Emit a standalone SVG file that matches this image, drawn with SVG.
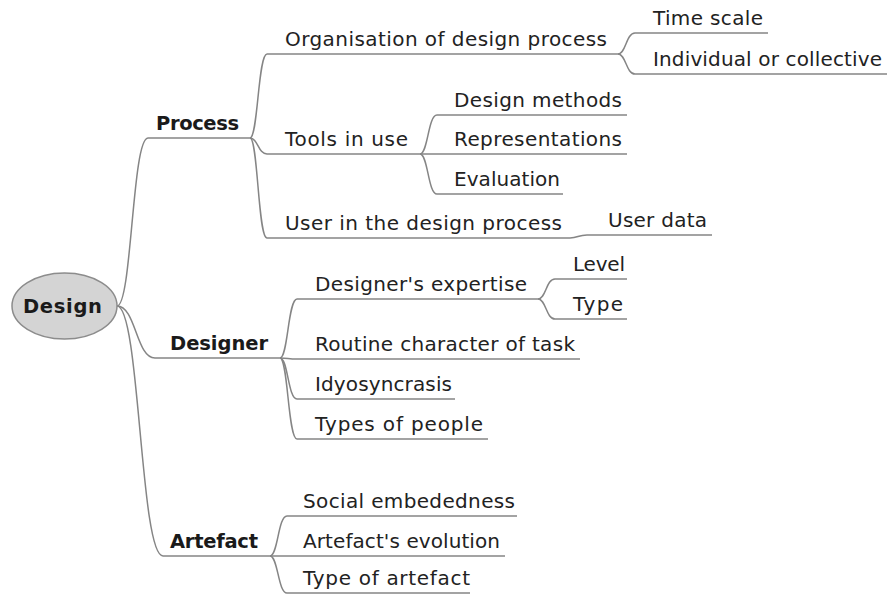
<svg xmlns="http://www.w3.org/2000/svg" width="887" height="594" viewBox="0 0 887 594">
<style>
.e{fill:none;stroke:#858585;stroke-width:1.5}
.t{font-family:"DejaVu Sans",Verdana,sans-serif;font-size:20px;fill:#222222}
.b{font-family:"DejaVu Sans",Verdana,sans-serif;font-size:19.5px;font-weight:bold;fill:#1a1a1a}
</style>
<rect width="887" height="594" fill="#ffffff"/>
<g id="connectors">
<path class="e" d="M117 306 C132 306 132 138 148 138"/>
<path class="e" d="M117 306 C136 306 136 358 155 358"/>
<path class="e" d="M117 306 C140 306 140 556 163 556"/>
<path class="e" d="M250 138 C258 138 258 54 267 54"/>
<path class="e" d="M250 138 C258 138 258 154 267 154"/>
<path class="e" d="M250 138 C258 138 258 238 267 238"/>
<path class="e" d="M420 154 C428 154 428 115 437 115"/>
<path class="e" d="M420 154 L437 154"/>
<path class="e" d="M420 154 C428 154 428 194 437 194"/>
<path class="e" d="M618 54 C626 54 626 33 635 33"/>
<path class="e" d="M618 54 C626 54 626 74 635 74"/>
<path class="e" d="M570 238 C578 238 578 235 587 235"/>
<path class="e" d="M280 358 C288 358 288 299 297 299"/>
<path class="e" d="M280 358 C288 358 288 359 297 359"/>
<path class="e" d="M280 358 C288 358 288 399 297 399"/>
<path class="e" d="M280 358 C288 358 288 439 297 439"/>
<path class="e" d="M538 299 C546 299 546 279 555 279"/>
<path class="e" d="M538 299 C546 299 546 319 555 319"/>
<path class="e" d="M270 556 C278 556 278 516 287 516"/>
<path class="e" d="M270 556 L287 556"/>
<path class="e" d="M270 556 C278 556 278 593 287 593"/>
</g>
<g id="root">
<ellipse cx="64.5" cy="306" rx="52.5" ry="33" fill="#d4d4d4" stroke="#8c8c8c" stroke-width="1.5"/>
<text class="b" x="23" y="313" textLength="79">Design</text>
</g>
<g id="process">
<path class="e" d="M148 138 L250 138"/>
<text class="b" x="156" y="130" textLength="83">Process</text>
</g>
<g id="organisation">
<path class="e" d="M267 54 L618 54"/>
<text class="t" x="285" y="46" textLength="322">Organisation of design process</text>
</g>
<g id="timescale">
<path class="e" d="M635 33 L768 33"/>
<text class="t" x="653" y="25" textLength="110">Time scale</text>
</g>
<g id="individual">
<path class="e" d="M635 74 L887 74"/>
<text class="t" x="653" y="66" textLength="229">Individual or collective</text>
</g>
<g id="tools">
<path class="e" d="M267 154 L420 154"/>
<text class="t" x="285" y="146" textLength="123">Tools in use</text>
</g>
<g id="methods">
<path class="e" d="M437 115 L627 115"/>
<text class="t" x="454" y="107" textLength="168">Design methods</text>
</g>
<g id="representations">
<path class="e" d="M437 154 L627 154"/>
<text class="t" x="454" y="146" textLength="168">Representations</text>
</g>
<g id="evaluation">
<path class="e" d="M437 194 L563 194"/>
<text class="t" x="454" y="186" textLength="106">Evaluation</text>
</g>
<g id="user">
<path class="e" d="M267 238 L570 238"/>
<text class="t" x="285" y="230" textLength="277">User in the design process</text>
</g>
<g id="userdata">
<path class="e" d="M587 235 L712 235"/>
<text class="t" x="608" y="227" textLength="99">User data</text>
</g>
<g id="designer">
<path class="e" d="M155 358 L280 358"/>
<text class="b" x="170" y="350" textLength="98">Designer</text>
</g>
<g id="expertise">
<path class="e" d="M297 299 L538 299"/>
<text class="t" x="315" y="291" textLength="212">Designer's expertise</text>
</g>
<g id="level">
<path class="e" d="M555 279 L627 279"/>
<text class="t" x="573" y="271" textLength="52">Level</text>
</g>
<g id="type">
<path class="e" d="M555 319 L627 319"/>
<text class="t" x="573" y="311" textLength="50">Type</text>
</g>
<g id="routine">
<path class="e" d="M297 359 L580 359"/>
<text class="t" x="315" y="351" textLength="260">Routine character of task</text>
</g>
<g id="idyosyncrasis">
<path class="e" d="M297 399 L455 399"/>
<text class="t" x="315" y="391" textLength="137">Idyosyncrasis</text>
</g>
<g id="people">
<path class="e" d="M297 439 L488 439"/>
<text class="t" x="315" y="431" textLength="168">Types of people</text>
</g>
<g id="artefact">
<path class="e" d="M163 556 L270 556"/>
<text class="b" x="170" y="548" textLength="88">Artefact</text>
</g>
<g id="social">
<path class="e" d="M287 516 L517 516"/>
<text class="t" x="303" y="508" textLength="212">Social embededness</text>
</g>
<g id="evolution">
<path class="e" d="M287 556 L505 556"/>
<text class="t" x="303" y="548" textLength="197">Artefact's evolution</text>
</g>
<g id="typeartefact">
<path class="e" d="M287 593 L470 593"/>
<text class="t" x="303" y="585" textLength="167">Type of artefact</text>
</g>
</svg>
